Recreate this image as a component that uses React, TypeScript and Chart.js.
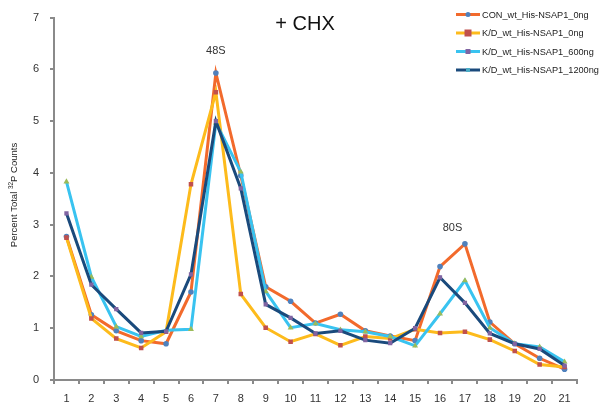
import { useEffect, useRef } from "react";
import { Chart, registerables } from "chart.js";

Chart.register(...registerables);

const categories = ["1","2","3","4","5","6","7","8","9","10","11","12","13","14","15","16","17","18","19","20","21"];
const seriesNames = ["CON_wt_His-NSAP1_0ng", "K/D_wt_His-NSAP1_0ng", "K/D_wt_His-NSAP1_600ng", "K/D_wt_His-NSAP1_1200ng"];
const conWt0ng = [2.77, 1.26, 0.95, 0.76, 0.70, 1.70, 5.93, 3.95, 1.80, 1.52, 1.10, 1.27, 0.95, 0.85, 0.76, 2.19, 2.63, 1.12, 0.70, 0.42, 0.21];
const kd0ng = [2.75, 1.19, 0.80, 0.62, 0.93, 3.78, 5.56, 1.66, 1.01, 0.74, 0.89, 0.67, 0.84, 0.80, 0.98, 0.91, 0.93, 0.78, 0.56, 0.30, 0.25];
const kd600ng = [3.83, 1.99, 1.03, 0.84, 0.96, 0.98, 4.97, 4.02, 1.71, 1.01, 1.09, 0.97, 0.93, 0.84, 0.66, 1.28, 1.92, 1.01, 0.70, 0.64, 0.35];
const kd1200ng = [3.22, 1.84, 1.37, 0.91, 0.94, 2.04, 5.00, 3.70, 1.46, 1.20, 0.90, 0.95, 0.77, 0.71, 1.00, 1.98, 1.49, 0.90, 0.70, 0.60, 0.28];
const yTicks = [0, 1, 2, 3, 4, 5, 6, 7];
const titleText = "+ CHX";
const yTitleParts = ["Percent Total ", "32", "P Counts"];
const peakLabels = ["48S", "80S"];
const peakPositions = [6, 15.5];
const peakValues = [6.35, 2.94];

const lineColors = ["#f26a2c", "#fdbb1c", "#39c3f0", "#1a4a7c"];
const markerColors = ["#4f81bd", "#c0504d", "#9bbb59", "#8064a2"];
const markerStyles = ["circle", "rect", "triangle", "rect"];
const markerRadii = [2.8, 3.2, 3.4, 3];
const legendMarkerColors = ["#4f81bd", "#c0504d", "#8064a2", "#4bacc6"];
const legendMarkerSizes = [2.5, 3.5, 2.5, 2];

const FONT = '"Liberation Sans", Arial, sans-serif';

const overlay = {
  id: "overlay",
  afterDraw(chart: any) {
    const ctx = chart.ctx as CanvasRenderingContext2D;
    const xs = chart.scales.x;
    const ys = chart.scales.y;
    ctx.save();
    // title
    ctx.fillStyle = "#111";
    ctx.textAlign = "center";
    ctx.textBaseline = "middle";
    ctx.font = `20px ${FONT}`;
    ctx.fillText(titleText, 305, 24.5);
    // peak labels
    ctx.font = `11px ${FONT}`;
    ctx.fillStyle = "#333";
    peakLabels.forEach((t, i) => {
      ctx.fillText(t, xs.getPixelForValue(peakPositions[i]), ys.getPixelForValue(peakValues[i]));
    });
    // y title
    ctx.save();
    ctx.translate(14, 195);
    ctx.rotate(-Math.PI / 2);
    ctx.font = `9.5px ${FONT}`;
    const w0 = ctx.measureText(yTitleParts[0]).width;
    const w2 = ctx.measureText(yTitleParts[2]).width;
    ctx.font = `6.5px ${FONT}`;
    const w1 = ctx.measureText(yTitleParts[1]).width;
    let sx = -(w0 + w1 + w2) / 2;
    ctx.textAlign = "left";
    ctx.fillStyle = "#222";
    ctx.font = `9.5px ${FONT}`;
    ctx.fillText(yTitleParts[0], sx, 0);
    sx += w0;
    ctx.font = `6.5px ${FONT}`;
    ctx.fillText(yTitleParts[1], sx, -3);
    sx += w1;
    ctx.font = `9.5px ${FONT}`;
    ctx.fillText(yTitleParts[2], sx, 0);
    ctx.restore();
    // legend
    ctx.font = `9.2px ${FONT}`;
    ctx.textAlign = "left";
    ctx.textBaseline = "middle";
    seriesNames.forEach((name, i) => {
      const ly = 14.5 + i * 18.5;
      ctx.strokeStyle = lineColors[i];
      ctx.lineWidth = 3;
      ctx.beginPath();
      ctx.moveTo(456, ly);
      ctx.lineTo(480, ly);
      ctx.stroke();
      ctx.fillStyle = legendMarkerColors[i];
      const s = legendMarkerSizes[i];
      if (i === 0) {
        ctx.beginPath();
        ctx.arc(468, ly, s, 0, Math.PI * 2);
        ctx.fill();
      } else {
        ctx.fillRect(468 - s, ly - s, 2 * s, 2 * s);
      }
      ctx.fillStyle = "#222";
      ctx.fillText(name, 482, ly + 0.5);
    });
    ctx.restore();
  },
};

export default function App() {
  const ref = useRef<HTMLCanvasElement>(null);
  useEffect(() => {
    document.body.style.margin = "0";
    const allSeries = [conWt0ng, kd0ng, kd600ng, kd1200ng];
    const chart = new Chart(ref.current as HTMLCanvasElement, {
      type: "line",
      data: {
        labels: categories,
        datasets: allSeries.map((d, i) => ({
          label: seriesNames[i],
          data: d,
          borderColor: lineColors[i],
          backgroundColor: markerColors[i],
          borderWidth: 3,
          pointStyle: markerStyles[i] as any,
          pointRadius: markerRadii[i],
          pointBackgroundColor: markerColors[i],
          pointBorderColor: markerColors[i],
          pointBorderWidth: 0,
          tension: 0,
          fill: false,
          order: 3 - i,
        })),
      },
      options: {
        responsive: false,
        animation: false,
        layout: { padding: { top: 7.4, right: 27, left: 0, bottom: 0 } },
        plugins: { legend: { display: false }, tooltip: { enabled: false }, title: { display: false } },
        scales: {
          x: {
            type: "category",
            offset: true,
            grid: { display: true, drawOnChartArea: false, drawTicks: true, tickLength: 4, offset: true, color: "#8a8a8a", lineWidth: 2 },
            border: { display: true, color: "#8a8a8a", width: 2 },
            ticks: { color: "#333", font: { size: 11, family: FONT }, padding: 8, autoSkip: false, maxRotation: 0 },
            afterFit: (s: any) => { s.height = 32; },
          },
          y: {
            min: 0,
            max: 7,
            afterBuildTicks: (s: any) => { s.ticks = yTicks.map((v) => ({ value: v })); },
            grid: { display: true, drawOnChartArea: false, drawTicks: true, tickLength: 4, color: "#8a8a8a", lineWidth: 2 },
            border: { display: true, color: "#8a8a8a", width: 2 },
            ticks: { color: "#333", font: { size: 11, family: FONT }, padding: 11 },
            afterFit: (s: any) => { s.width = 54; },
          },
        },
      },
      plugins: [overlay],
    });
    return () => chart.destroy();
  }, []);
  return <canvas ref={ref} width={604} height={412} style={{ display: "block" }} />;
}
